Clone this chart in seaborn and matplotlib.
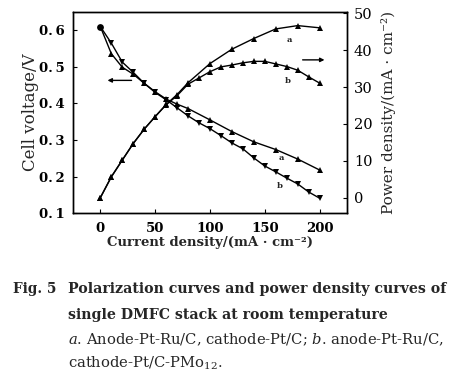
import matplotlib
matplotlib.use("Agg")
import matplotlib.pyplot as plt
import seaborn as sns
import pandas as pd

# curve a: anode Pt-Ru/C, cathode Pt/C
current_a = [0, 10, 20, 30, 40, 50, 60, 70, 80, 100, 120, 140, 160, 180, 200]
volt_a = [0.61, 0.536, 0.499, 0.480, 0.455, 0.432, 0.412, 0.398, 0.386, 0.355, 0.323, 0.295, 0.274, 0.248, 0.218]
power_a = [0, 5.6, 10.2, 14.7, 18.6, 22.0, 25.3, 28.0, 31.2, 36.4, 40.3, 43.2, 45.8, 46.7, 46.1]

# curve b: anode Pt-Ru/C, cathode Pt/C-PMo12
current_b = [0, 10, 20, 30, 40, 50, 60, 70, 80, 90, 100, 110, 120, 130, 140, 150, 160, 170, 180, 190, 200]
volt_b = [0.61, 0.565, 0.513, 0.485, 0.455, 0.430, 0.410, 0.388, 0.366, 0.347, 0.331, 0.312, 0.292,
          0.276, 0.251, 0.229, 0.213, 0.196, 0.180, 0.158, 0.141]
power_b = [0, 5.7, 10.2, 14.7, 18.6, 22.0, 25.2, 27.7, 30.8, 32.5, 34.2, 35.5, 36.0, 36.6, 37.0,
           37.0, 36.3, 35.6, 34.6, 32.8, 31.1]

volt_ticks = [0.1, 0.2, 0.3, 0.4, 0.5, 0.6]
volt_ticklabels = ["0.\u20091", "0.\u20092", "0.\u20093", "0.\u20094", "0.\u20095", "0.\u20096"]
power_ticks = [0, 10, 20, 30, 40, 50]
current_ticks = [0, 50, 100, 150, 200]

sns.set_theme(style="ticks")
plt.rcParams["font.family"] = ["DejaVu Serif"]
plt.rcParams["mathtext.fontset"] = "dejavuserif"

df_a = pd.DataFrame({"I": current_a, "V": volt_a, "P": power_a})
df_b = pd.DataFrame({"I": current_b, "V": volt_b, "P": power_b})

fig = plt.figure(figsize=(4.53, 3.74), dpi=100)
ax = fig.add_axes([0.161, 0.430, 0.605, 0.538])
ax2 = ax.twinx()

line_kw = dict(color="black", linewidth=1.0, markersize=5, markeredgewidth=0,
               markerfacecolor="black")
sns.lineplot(data=df_a, x="I", y="V", ax=ax, marker="^", markevery=list(range(1, len(df_a))), **line_kw)
sns.lineplot(data=df_b, x="I", y="V", ax=ax, marker="v", markevery=list(range(1, len(df_b))), **line_kw)
sns.scatterplot(x=df_b["I"][:1], y=df_b["V"][:1], ax=ax, color="black", s=24, marker="o", linewidth=0)

sns.lineplot(data=df_a, x="I", y="P", ax=ax2, marker="^", **line_kw)
sns.lineplot(data=df_b, x="I", y="P", ax=ax2, marker="^", **line_kw)

ax.set_xlim(-25, 225)
ax.set_ylim(0.1, 0.65)
ax2.set_ylim(-4.2, 50.4)

ax.set_xticks(current_ticks)
ax.set_yticks(volt_ticks)
ax.set_yticklabels(volt_ticklabels)
ax2.set_yticks(power_ticks)

for a in (ax, ax2):
    a.tick_params(direction="in", length=3, width=0.8, labelsize=10, colors="black")
    for s in a.spines.values():
        s.set_linewidth(1.0)
        s.set_color("black")
for lab in ax.get_xticklabels() + ax.get_yticklabels():
    lab.set_fontweight("bold")
ax.tick_params(axis="x", pad=6, labelsize=9.5)
ax.tick_params(axis="y", pad=6, labelsize=9.5)
ax2.tick_params(axis="y", pad=5, labelsize=10.5)

ax.set_xlabel("Current density/(mA · cm⁻²)", fontsize=9.5, fontweight="bold", labelpad=1)
ax.set_ylabel("Cell voltage/V", fontsize=12, labelpad=0)
ax2.set_ylabel("Power density/(mA · cm⁻²)", fontsize=11, labelpad=6)

# arrows pointing to the relevant axis
ax.annotate("", xy=(4, 0.463), xytext=(31, 0.463),
            arrowprops=dict(arrowstyle="-|>", color="black", lw=1.0, mutation_scale=6))
ax2.annotate("", xy=(207, 37.4), xytext=(182, 37.4),
             arrowprops=dict(arrowstyle="-|>", color="black", lw=1.0, mutation_scale=6))

# curve labels
ax2.text(172, 42.9, "a", fontsize=6, fontweight="bold", ha="center", va="center")
ax2.text(171, 31.8, "b", fontsize=6, fontweight="bold", ha="center", va="center")
ax.text(165, 0.252, "a", fontsize=6, fontweight="bold", ha="center", va="center")
ax.text(164, 0.174, "b", fontsize=6, fontweight="bold", ha="center", va="center")

# caption
fig.text(0.029, 0.228, "Fig. 5", fontsize=9.8, fontweight="bold", va="center")
fig.text(0.150, 0.228, "Polarization curves and power density curves of", fontsize=10.15,
         fontweight="bold", va="center")
fig.text(0.150, 0.158, "single DMFC stack at room temperature", fontsize=10.15,
         fontweight="bold", va="center")
fig.text(0.150, 0.091, r"$\it{a}$. Anode-Pt-Ru/C, cathode-Pt/C; $\it{b}$. anode-Pt-Ru/C,",
         fontsize=10.6, va="center")
fig.text(0.150, 0.029, r"cathode-Pt/C-PMo$_{12}$.", fontsize=10.6, va="center")

fig.savefig("out.png", dpi=100)
